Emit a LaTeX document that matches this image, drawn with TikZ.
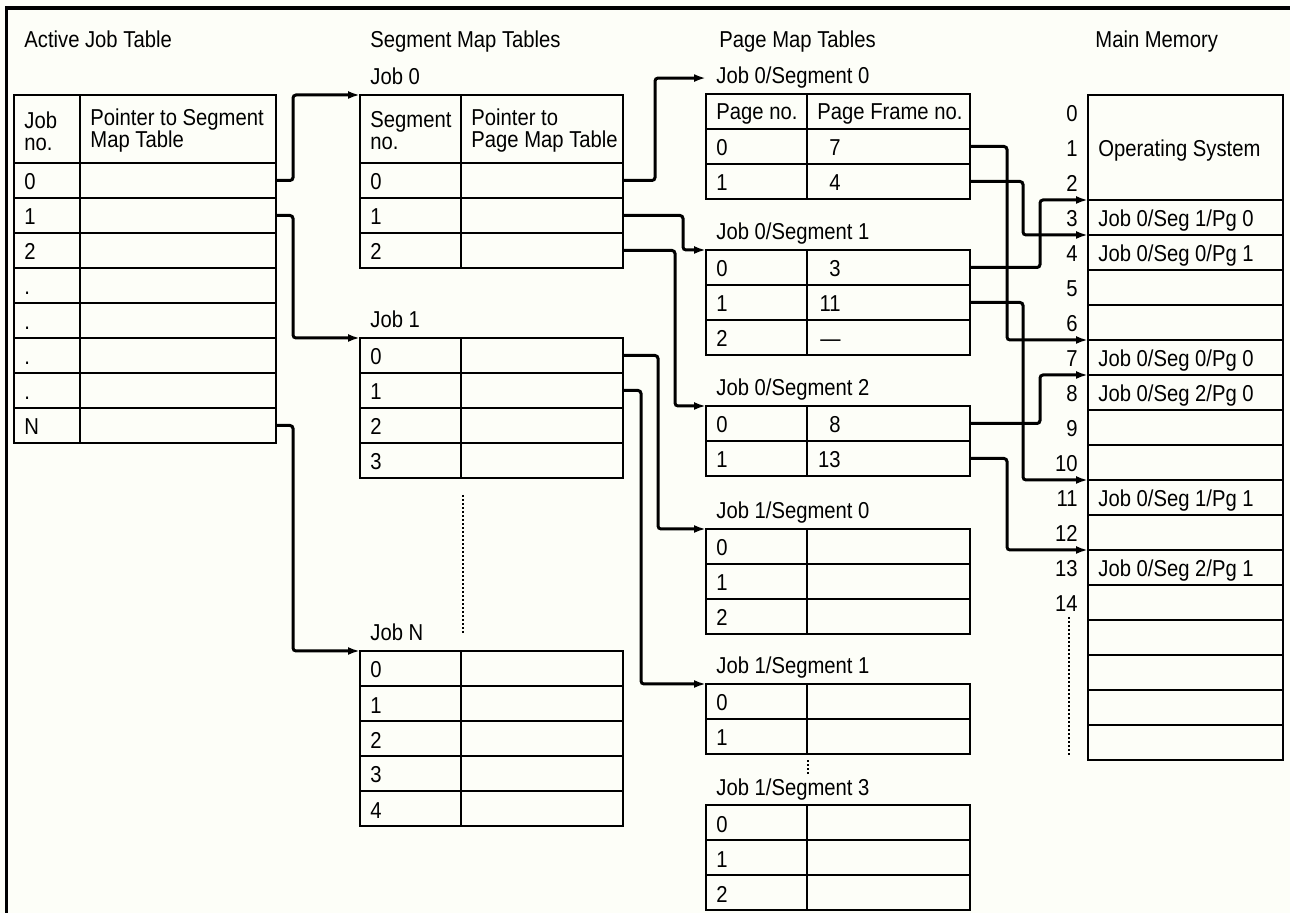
\documentclass[tikz,border=0pt]{standalone}
\usepackage{fontspec}
\setmainfont{Liberation Sans}[FakeStretch=0.88]
\usepackage{xcolor}
\usetikzlibrary{arrows.meta}
\definecolor{paper}{RGB}{253,254,248}

\newcommand\maprows[6]{%
  \coordinate (#1-in) at (#2,#5);
  \foreach \lab/\val [count=\i from 0] in {#6}{%
    \draw[tabline] (#2,#5+35*\i) rectangle (#4,#5+35*\i+35)
      (#3,#5+35*\i) -- (#3,#5+35*\i+35);
    \node[cell] (#1-\i) at (#2,#5+35*\i+27) {\lab};
    \node[val] (#1-v\i) at (#3+34,#5+35*\i+27) {\val};
    \coordinate (#1-out\i) at (#4,#5+35*\i+17.5);
  }%
}

\begin{document}
\begin{tikzpicture}[
  x=0.5pt,y=-0.5pt,
  font=\fontsize{11.5}{11}\selectfont,
  >={Latex[length=6pt,width=4pt]},
  tabline/.style={line width=1pt},
  link/.style={->,line width=1.5pt,rounded corners=1.5pt},
  cell/.style={anchor=base west,inner xsep=5pt,inner ysep=0pt},
  val/.style={anchor=base east,inner sep=0pt},
  frameno/.style={anchor=base east,inner xsep=5pt,inner ysep=0pt},
  gap/.style={densely dotted,line width=1pt}
]
  \useasboundingbox (0,0) rectangle (1290,913);
  \fill[paper] (0,0) rectangle (1290,913);
  \draw[line width=1.6pt] (6.5,913) -- (6.5,8) -- (1290,8);

  \node[cell] (t-ajt) at (14,48) {Active Job Table};
  \node[cell] (t-smt) at (360,48) {Segment Map Tables};
  \node[cell] (t-pmt) at (709,48) {Page Map Tables};
  \node[cell] (t-mem) at (1085,48) {Main Memory};

  \draw[tabline] (14,95) rectangle (276,163) (80,95) -- (80,163);
  \node[cell,align=left,anchor=west] (ajt-h1) at (14,131) {Job\\no.};
  \node[cell,align=left,anchor=west] (ajt-h2) at (80,131) {Pointer to Segment\\Map Table};
  \maprows{ajt}{14}{80}{276}{163}{0/{},1/{},2/{},./{},./{},./{},./{},N/{}}

  \node[cell] (smt0-lab) at (360,85) {Job 0};
  \coordinate (smt0-top) at (360,95);
  \draw[tabline] (360,95) rectangle (623,163) (461,95) -- (461,163);
  \node[cell,align=left,anchor=west] (smt0-h1) at (360,131) {Segment\\no.};
  \node[cell,align=left,anchor=west] (smt0-h2) at (461,131) {Pointer to\\Page Map Table};
  \maprows{smt0}{360}{461}{623}{163}{0/{},1/{},2/{}}
  \node[cell] (smt1-lab) at (360,328) {Job 1};
  \maprows{smt1}{360}{461}{623}{338}{0/{},1/{},2/{},3/{}}
  \node[cell] (smtN-lab) at (360,641) {Job N};
  \maprows{smtN}{360}{461}{623}{651}{0/{},1/{},2/{},3/{},4/{}}
  \draw[gap] (463,495) -- (463,635);

  \node[cell] (pmt00-lab) at (706,84) {Job 0/Segment 0};
  \draw[tabline] (706,94) rectangle (970,129) (807,94) -- (807,129);
  \node[cell] (pmt00-h1) at (706,120) {Page no.};
  \node[cell] (pmt00-h2) at (807,120) {Page Frame no.};
  \maprows{pmt00}{706}{807}{970}{129}{0/7,1/4}
  \node[cell] (pmt01-lab) at (706,240) {Job 0/Segment 1};
  \maprows{pmt01}{706}{807}{970}{250}{0/3,1/11,2/---}
  \node[cell] (pmt02-lab) at (706,396) {Job 0/Segment 2};
  \maprows{pmt02}{706}{807}{970}{406}{0/8,1/13}
  \node[cell] (pmt10-lab) at (706,519) {Job 1/Segment 0};
  \maprows{pmt10}{706}{807}{970}{529}{0/{},1/{},2/{}}
  \node[cell] (pmt11-lab) at (706,674) {Job 1/Segment 1};
  \maprows{pmt11}{706}{807}{970}{684}{0/{},1/{}}
  \draw[gap] (808,760) -- (808,776);
  \node[cell] (pmt13-lab) at (706,795) {Job 1/Segment 3};
  \maprows{pmt13}{706}{807}{970}{805}{0/{},1/{},2/{}}

  \draw[tabline] (1088,95) rectangle (1283,760);
  \foreach \k in {3,...,18}
    \draw[tabline] (1088,95+35*\k) -- (1283,95+35*\k);
  \foreach \k in {0,...,14}
    \node[frameno] (f\k) at (1088,95+35*\k+27) {\k};
  \foreach \k in {3,4,7,8,11,13}
    \coordinate (mem\k) at (1088,95+35*\k);
  \draw[gap] (1069,617) -- (1069,757);
  \node[cell] (os) at (1088,157) {Operating System};
  \node[cell] (m3) at (1088,227) {Job 0/Seg 1/Pg 0};
  \node[cell] (m4) at (1088,262) {Job 0/Seg 0/Pg 1};
  \node[cell] (m7) at (1088,367) {Job 0/Seg 0/Pg 0};
  \node[cell] (m8) at (1088,402) {Job 0/Seg 2/Pg 0};
  \node[cell] (m11) at (1088,507) {Job 0/Seg 1/Pg 1};
  \node[cell] (m13) at (1088,577) {Job 0/Seg 2/Pg 1};

  \draw[link] (ajt-out0) -- ++(17,0) |- (smt0-top);
  \draw[link] (ajt-out1) -- ++(17,0) |- (smt1-in);
  \draw[link] (ajt-out7) -- ++(17,0) |- (smtN-in);
  \draw[link] (smt0-out0) -- ++(32,0) |- (pmt00-lab.west);
  \draw[link] (smt0-out1) -- ++(60,0) |- (pmt01-in);
  \draw[link] (smt0-out2) -- ++(52,0) |- (pmt02-in);
  \draw[link] (smt1-out0) -- ++(35,0) |- (pmt10-in);
  \draw[link] (smt1-out1) -- ++(18,0) |- (pmt11-in);
  \draw[link] (pmt00-out0) -- ++(37,0) |- (mem7);
  \draw[link] (pmt00-out1) -- ++(53,0) |- (mem4);
  \draw[link] (pmt01-out0) -- ++(70,0) |- (mem3);
  \draw[link] (pmt01-out1) -- ++(53,0) |- (mem11);
  \draw[link] (pmt02-out0) -- ++(70,0) |- (mem8);
  \draw[link] (pmt02-out1) -- ++(37,0) |- (mem13);
\end{tikzpicture}
\end{document}
